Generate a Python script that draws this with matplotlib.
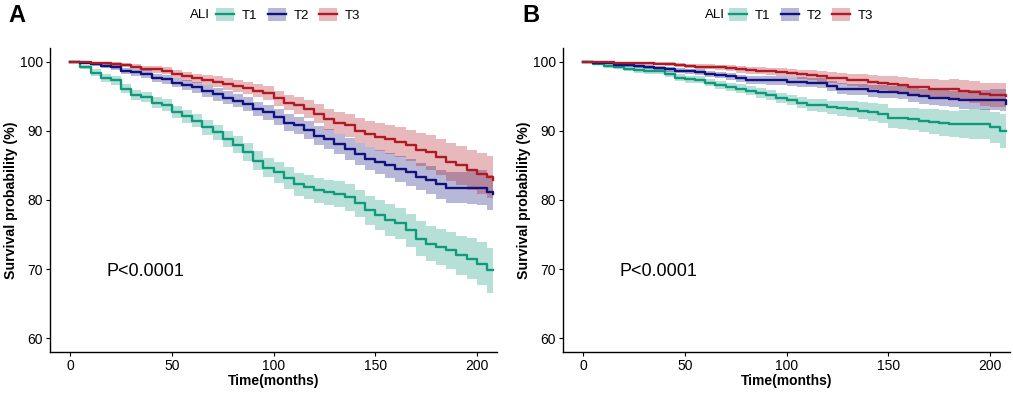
import matplotlib
matplotlib.use("Agg")
import matplotlib.pyplot as plt
import matplotlib.patches as mpatches
from matplotlib.lines import Line2D
from matplotlib.legend_handler import HandlerTuple
import numpy as np

plt.rcParams['font.family'] = ['Liberation Sans', 'DejaVu Sans']

# time grid (months)
time = [0, 5, 10, 15, 20, 25, 30, 35, 40, 45, 50, 55, 60, 65, 70, 75, 80, 85,
        90, 95, 100, 105, 110, 115, 120, 125, 130, 135, 140, 145, 150, 155,
        160, 165, 170, 175, 180, 185, 190, 195, 200, 205, 208]

groups = ['T1', 'T2', 'T3']

# ---- Panel A: survival (%) and CI half-widths ----
a_t1 = [100, 99.2, 98.4, 97.7, 97.3, 96.1, 95.2, 94.9, 94.1, 93.7, 92.7, 92.1,
        91.5, 90.5, 89.8, 88.8, 88.0, 86.9, 85.7, 84.7, 84.0, 83.2, 82.3, 81.9,
        81.4, 81.1, 80.9, 80.4, 79.5, 78.5, 77.8, 77.1, 76.6, 75.6, 74.4, 73.7,
        73.2, 72.7, 72.0, 71.5, 70.8, 69.8, 69.8]
a_t1_ci = [0, 0.3, 0.5, 0.55, 0.6, 0.65, 0.7, 0.75, 0.8, 0.85, 0.9, 0.95, 1.0,
           1.05, 1.1, 1.2, 1.25, 1.3, 1.35, 1.4, 1.5, 1.55, 1.65, 1.7, 1.8, 1.85,
           1.9, 1.95, 2.0, 2.1, 2.2, 2.25, 2.3, 2.4, 2.5, 2.55, 2.6, 2.7, 2.8,
           2.95, 3.1, 3.3, 3.4]
a_t2 = [100, 99.9, 99.7, 99.4, 99.2, 98.7, 98.5, 98.2, 97.7, 97.5, 97.0, 96.6,
        96.3, 95.8, 95.3, 94.8, 94.4, 93.9, 93.2, 92.7, 92.0, 91.2, 90.8, 90.1,
        89.3, 88.8, 88.1, 87.4, 86.7, 86.0, 85.5, 85.0, 84.5, 84.0, 83.4, 82.9,
        82.3, 81.8, 81.8, 81.8, 81.8, 81.1, 80.9]
a_t2_ci = [0, 0.15, 0.25, 0.3, 0.4, 0.45, 0.5, 0.55, 0.6, 0.65, 0.7, 0.75, 0.8,
           0.85, 0.9, 0.95, 1.0, 1.0, 1.05, 1.1, 1.1, 1.2, 1.25, 1.3, 1.4, 1.45,
           1.5, 1.55, 1.6, 1.7, 1.8, 1.85, 1.9, 1.95, 2.0, 2.05, 2.1, 2.2, 2.3,
           2.4, 2.5, 2.55, 2.6]
a_t3 = [100, 100, 99.9, 99.8, 99.7, 99.5, 99.3, 99.0, 98.9, 98.7, 98.2, 97.9,
        97.6, 97.4, 97.1, 96.8, 96.5, 96.2, 95.8, 95.5, 94.7, 94.1, 93.7, 93.2,
        92.5, 91.7, 91.2, 90.8, 90.0, 89.6, 89.1, 88.8, 88.4, 87.9, 87.3, 86.9,
        86.2, 85.5, 85.0, 84.3, 83.8, 83.3, 82.9]
a_t3_ci = [0, 0.1, 0.15, 0.2, 0.25, 0.3, 0.35, 0.4, 0.45, 0.5, 0.6, 0.65, 0.7,
           0.75, 0.8, 0.85, 0.9, 0.9, 0.95, 1.0, 1.05, 1.1, 1.2, 1.3, 1.4, 1.5,
           1.6, 1.7, 1.8, 1.9, 2.0, 2.1, 2.2, 2.3, 2.4, 2.5, 2.6, 2.7, 2.8, 2.9,
           3.0, 3.05, 3.1]

# ---- Panel B: survival (%) and CI half-widths ----
b_t1 = [100, 99.7, 99.4, 99.2, 99.0, 98.8, 98.7, 98.6, 98.2, 97.7, 97.5, 97.4,
        97.0, 96.6, 96.4, 96.1, 95.8, 95.5, 95.2, 94.8, 94.5, 94.1, 93.8, 93.7,
        93.4, 93.3, 93.2, 92.9, 92.7, 92.5, 91.8, 91.8, 91.7, 91.5, 91.3, 91.1,
        91.0, 91.0, 91.0, 91.0, 90.5, 90.0, 90.0]
b_t1_ci = [0, 0.15, 0.25, 0.3, 0.35, 0.38, 0.4, 0.42, 0.45, 0.48, 0.5, 0.52,
           0.55, 0.58, 0.6, 0.62, 0.65, 0.68, 0.7, 0.72, 0.75, 0.8, 0.85, 0.92,
           1.0, 1.08, 1.15, 1.22, 1.3, 1.38, 1.45, 1.52, 1.6, 1.7, 1.8, 1.88,
           1.95, 2.02, 2.1, 2.2, 2.3, 2.45, 2.5]
b_t2 = [100, 99.9, 99.8, 99.6, 99.5, 99.4, 99.3, 99.1, 98.9, 98.7, 98.6, 98.5,
        98.2, 98.1, 97.9, 97.6, 97.4, 97.4, 97.3, 97.3, 97.1, 97.1, 97.0, 96.9,
        96.5, 96.1, 96.0, 96.0, 95.8, 95.7, 95.6, 95.5, 95.2, 95.0, 94.8, 94.7,
        94.6, 94.5, 94.5, 94.5, 94.5, 94.5, 93.9]
b_t2_ci = [0, 0.1, 0.15, 0.2, 0.25, 0.28, 0.3, 0.32, 0.35, 0.38, 0.4, 0.42,
           0.45, 0.48, 0.5, 0.52, 0.55, 0.58, 0.6, 0.62, 0.65, 0.68, 0.7, 0.72,
           0.75, 0.78, 0.8, 0.82, 0.85, 0.88, 0.9, 0.95, 1.0, 1.05, 1.1, 1.15,
           1.2, 1.28, 1.35, 1.42, 1.5, 1.6, 1.7]
b_t3 = [100, 100, 100, 99.9, 99.9, 99.8, 99.8, 99.7, 99.7, 99.5, 99.4, 99.3,
        99.3, 99.2, 99.1, 98.9, 98.8, 98.7, 98.6, 98.5, 98.4, 98.2, 98.1, 97.9,
        97.7, 97.6, 97.4, 97.3, 97.1, 96.9, 96.8, 96.6, 96.4, 96.3, 96.1, 96.0,
        96.0, 95.8, 95.6, 95.3, 95.2, 95.2, 95.1]
b_t3_ci = [0, 0.05, 0.1, 0.12, 0.15, 0.18, 0.2, 0.22, 0.25, 0.28, 0.3, 0.32,
           0.35, 0.38, 0.4, 0.45, 0.5, 0.52, 0.55, 0.58, 0.6, 0.65, 0.7, 0.75,
           0.8, 0.85, 0.9, 0.95, 1.0, 1.05, 1.1, 1.15, 1.2, 1.28, 1.35, 1.4,
           1.45, 1.52, 1.6, 1.65, 1.7, 1.75, 1.8]

colors = ['#0f9b7b', '#12127f', '#b01a22']

fig = plt.figure(figsize=(10.13, 3.93), dpi=100)
ax_a = fig.add_axes([50/1013, 41/393, 447/1013, 304/393])
ax_b = fig.add_axes([563/1013, 41/393, 447/1013, 304/393])


def draw_panel(ax, curves, cis):
    t = np.array(time)
    for s, ci, c in zip(curves, cis, colors):
        s = np.array(s)
        ci = np.array(ci)
        ax.fill_between(t, s - ci, np.minimum(s + ci, 100), step='post',
                        color=c, alpha=0.3, lw=0)
        ax.step(t, s, where='post', color=c, lw=1.7)
    ax.set_xlim(-10, 210)
    ax.set_ylim(58, 102)
    ax.set_xticks([0, 50, 100, 150, 200])
    ax.set_yticks([60, 70, 80, 90, 100])
    for side in ['top', 'right']:
        ax.spines[side].set_visible(False)
    for side in ['left', 'bottom']:
        ax.spines[side].set_linewidth(1.0)
    ax.tick_params(labelsize=10, colors='black', length=3, width=0.8, pad=2)
    ax.set_xlabel('Time(months)', fontsize=10, fontweight='bold', labelpad=1)
    ax.set_ylabel('Survival probability (%)', fontsize=10.2, fontweight='bold',
                  va='center')
    ax.yaxis.set_label_coords(-0.087, 0.5)
    ax.text(18, 69.6, 'P<0.0001', fontsize=13, ha='left', va='center')


draw_panel(ax_a, [a_t1, a_t2, a_t3], [a_t1_ci, a_t2_ci, a_t3_ci])
draw_panel(ax_b, [b_t1, b_t2, b_t3], [b_t1_ci, b_t2_ci, b_t3_ci])

# panel letters
fig.text(8/1013, 1 - 15/393, 'A', fontsize=17, fontweight='bold', va='center')
fig.text(522/1013, 1 - 15/393, 'B', fontsize=17, fontweight='bold', va='center')

# legends (ggplot style: title on the left, key = ribbon box + line)
handles = [(mpatches.Patch(facecolor=c, alpha=0.3, lw=0), Line2D([], [], color=c, lw=1.7))
           for c in colors]
for x_ali, x_leg in [(190, 216), (705, 729)]:
    fig.text(x_ali/1013, 1 - 15/393, 'ALI', fontsize=9.5, va='center')
    fig.legend(handles, groups, loc='center left', bbox_to_anchor=(x_leg/1013, 1 - 15/393),
               ncol=3, frameon=False, fontsize=9.5, handlelength=1.35, handleheight=1.2,
               handletextpad=0.6, columnspacing=0.8, borderpad=0, borderaxespad=0,
               handler_map={tuple: HandlerTuple(ndivide=1, pad=0)})

fig.savefig('out.png', dpi=100)
